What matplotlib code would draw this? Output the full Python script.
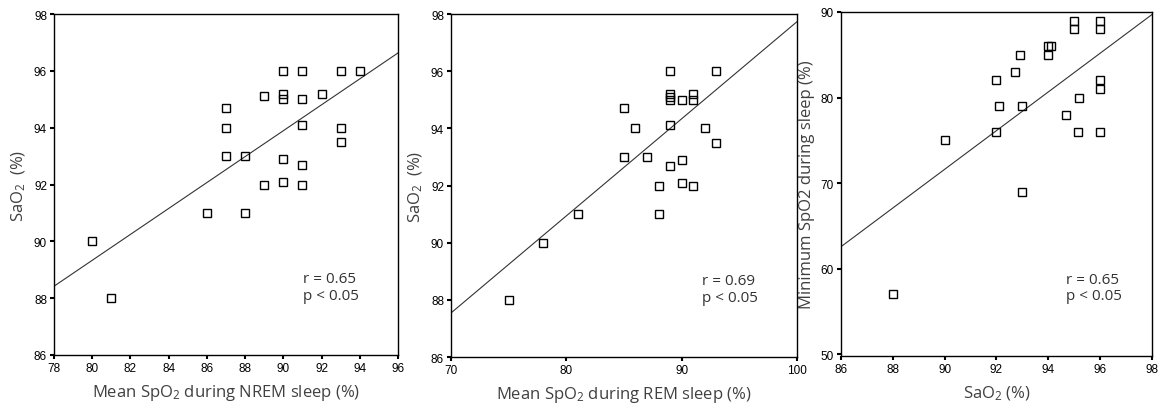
import matplotlib

matplotlib.use("Agg")
import matplotlib.pyplot as plt

# panel 1: NREM mean SpO2 vs SaO2
nrem_x = [80, 81, 86, 87, 87, 87, 88, 88, 89, 89, 90, 90, 90, 90, 90,
          91, 91, 91, 91, 91, 92, 93, 93, 93, 94]
nrem_y = [90, 88, 91, 94.7, 94, 93, 93, 91, 95.1, 92, 96, 95.2, 95, 92.9, 92.1,
          96, 95, 94.1, 92.7, 92, 95.2, 96, 94, 93.5, 96]
nrem_fit_x = [78, 96]
nrem_fit_y = [88.42, 96.63]

# panel 2: REM mean SpO2 vs SaO2
rem_x = [75, 78, 81, 85, 85, 86, 87, 88, 88, 89, 89, 89, 89, 89, 89,
         90, 90, 90, 91, 91, 91, 92, 93, 93]
rem_y = [88, 90, 91, 94.7, 93, 94, 93, 92, 91, 96, 95.2, 95.1, 95, 94.1, 92.7,
         95, 92.9, 92.1, 95.2, 95, 92, 94, 96, 93.5]
rem_fit_x = [70, 100]
rem_fit_y = [87.54, 97.73]

# panel 3: SaO2 vs minimum SpO2
sao2_x = [88, 90, 92, 92.1, 92, 92.7, 92.9, 93, 93, 94, 94.1, 94, 94.7,
          95, 95, 95.2, 95.15, 96, 96, 96, 96, 96]
minsp_y = [57, 75, 82, 79, 76, 83, 85, 79, 69, 86, 86, 85, 78,
           89, 88, 80, 76, 89, 88, 82, 81, 76]
min_fit_x = [86, 98]
min_fit_y = [62.57, 89.7]

stats = ["r = 0.65\np < 0.05", "r = 0.69\np < 0.05", "r = 0.65\np < 0.05"]

plt.rcParams["mathtext.fontset"] = "custom"
plt.rcParams["mathtext.rm"] = "Open Sans"
plt.rcParams["mathtext.it"] = "Open Sans"
LABEL_FONT = dict(family="Open Sans", fontsize=12, color="#404040")
TICK_FONT = "Liberation Sans"

fig = plt.figure(figsize=(11.59, 4.06), dpi=100)
axes = [
    fig.add_axes([0.0466, 0.1232, 0.2968, 0.8398]),
    fig.add_axes([0.3891, 0.1182, 0.2985, 0.8448]),
    fig.add_axes([0.7256, 0.1207, 0.2683, 0.8473]),
]

panels = [
    (nrem_x, nrem_y, nrem_fit_x, nrem_fit_y, (78, 96), range(78, 97, 2), (86, 98), range(86, 99, 2),
     "Mean SpO$_2$ during NREM sleep (%)", "SaO$_2$  (%)"),
    (rem_x, rem_y, rem_fit_x, rem_fit_y, (70, 100), range(70, 101, 10), (86, 98), range(86, 99, 2),
     "Mean SpO$_2$ during REM sleep (%)", "SaO$_2$  (%)"),
    (sao2_x, minsp_y, min_fit_x, min_fit_y, (86, 98), range(86, 99, 2), (49.8, 90), range(50, 91, 10),
     "SaO$_2$ (%)", "Minimum SpO2 during sleep (%)"),
]

for ax, (xs, ys, fx, fy, xlim, xt, ylim, yt, xl, yl), txt in zip(axes, panels, stats):
    ax.plot(fx, fy, color="#333333", linewidth=0.8)
    ax.plot(xs, ys, linestyle="none", marker="s", markersize=6,
            markerfacecolor="none", markeredgecolor="black", markeredgewidth=1.0)
    ax.set_xlim(*xlim)
    ax.set_ylim(*ylim)
    ax.set_xticks(list(xt))
    ax.set_yticks(list(yt))
    ax.tick_params(direction="out", length=3, width=1.5, labelsize=8.5, pad=2)
    for lab in ax.get_xticklabels() + ax.get_yticklabels():
        lab.set_family(TICK_FONT)
    for sp in ax.spines.values():
        sp.set_linewidth(1.0)
    ax.set_xlabel(xl, labelpad=6, **LABEL_FONT)
    ax.set_ylabel(yl, labelpad=4, **LABEL_FONT)
    ax.text(0.725, 0.245, txt, transform=ax.transAxes, va="top", ha="left",
            family="Open Sans", fontsize=11, color="#333333", linespacing=1.15)

fig.savefig("out.png", dpi=100)
